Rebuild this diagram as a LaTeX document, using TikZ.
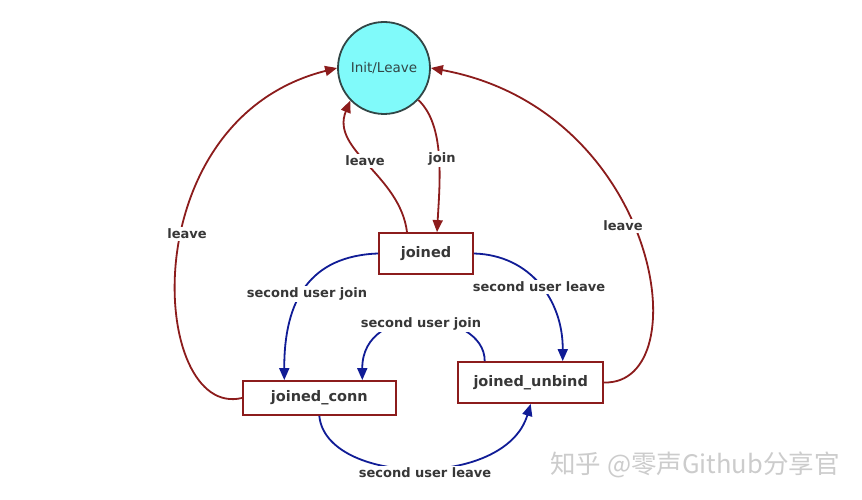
\documentclass[tikz,border=0pt]{standalone}
\usepackage{fontspec}
\setmainfont{DejaVu Sans}
\newfontfamily\cjk{Noto Sans CJK SC}
\usetikzlibrary{arrows.meta}
\definecolor{edgered}{RGB}{140,28,28}
\definecolor{edgeblue}{RGB}{16,28,150}
\definecolor{statefill}{RGB}{128,250,250}
\definecolor{stateline}{RGB}{50,70,70}
\definecolor{labeltext}{RGB}{55,55,55}
\tikzset{
  statebox/.style={draw=edgered, line width=1.8pt, fill=white, minimum width=#1, inner sep=0pt,
     font=\fontsize{14.5}{16}\selectfont\bfseries, text=labeltext},
  redarrow/.style={draw=edgered, line width=1.8pt, -{Triangle[length=12pt,width=10pt]}},
  bluearrow/.style={draw=edgeblue, line width=1.8pt, -{Triangle[length=12pt,width=10pt]}},
  edgelabel/.style={fill=white, inner sep=1.5pt, text=labeltext, font=\fontsize{13}{15}\selectfont\bfseries}
}
\begin{document}
\begin{tikzpicture}[x=1pt,y=1pt]
\useasboundingbox[fill=white] (0,0) rectangle (862,500);
% nodes
\node[circle, draw=stateline, line width=1.8pt, fill=statefill, minimum size=92pt, inner sep=0pt,
      text=stateline, font=\fontsize{13.5}{15}\selectfont] (init) at (384,432) {Init/Leave};
\node[statebox=94pt, minimum height=41pt] (joined) at (426,246.5) {joined};
\node[statebox=153pt, minimum height=34pt] (jc) at (319.3,102) {joined\_conn};
\node[statebox=145pt, minimum height=41pt] (ju) at (530.7,117.5) {joined\_unbind};
% red connectors
\draw[redarrow] (jc.west) .. controls (150,80) and (130,380) .. (init.west);
\draw[redarrow] (ju.east) .. controls (700,115) and (660,390) .. (init.east);
\draw[redarrow] ([xshift=-19pt]joined.north) .. controls (400,325) and (330,350) .. (init.224);
\draw[redarrow] (init.-43) .. controls (445,375) and (440,320) .. ([xshift=11pt]joined.north);
% blue connectors
\draw[bluearrow] (joined.west) .. controls (310,244) and (284,200) .. ([xshift=-35pt]jc.north);
\draw[bluearrow] (joined.east) .. controls (530,245) and (563,200) .. ([xshift=32pt]ju.north);
\draw[bluearrow] ([xshift=-46pt]ju.north) .. controls (485,190) and (362,200) .. ([xshift=43pt]jc.north);
\draw[bluearrow] (jc.south) .. controls (326,15) and (505,10) .. (ju.south);
% labels
\node[edgelabel] (l1) at (187,266) {leave};
\node[edgelabel] (l2) at (623,274) {leave};
\node[edgelabel] (l3) at (365,339) {leave};
\node[edgelabel] (l4) at (442,341) {join};
\node[edgelabel] (l5) at (307,206) {second user join};
\node[edgelabel] (l6) at (539,213) {second user leave};
\node[edgelabel] (l7) at (421,176) {second user join};
\node[edgelabel] (l8) at (425,27) {second user leave};
% watermark
\node[text=black!20, font=\cjk\fontsize{25.5}{28}\selectfont] (wm) at (695,35) {知乎 @零声Github分享官};
\end{tikzpicture}
\end{document}
